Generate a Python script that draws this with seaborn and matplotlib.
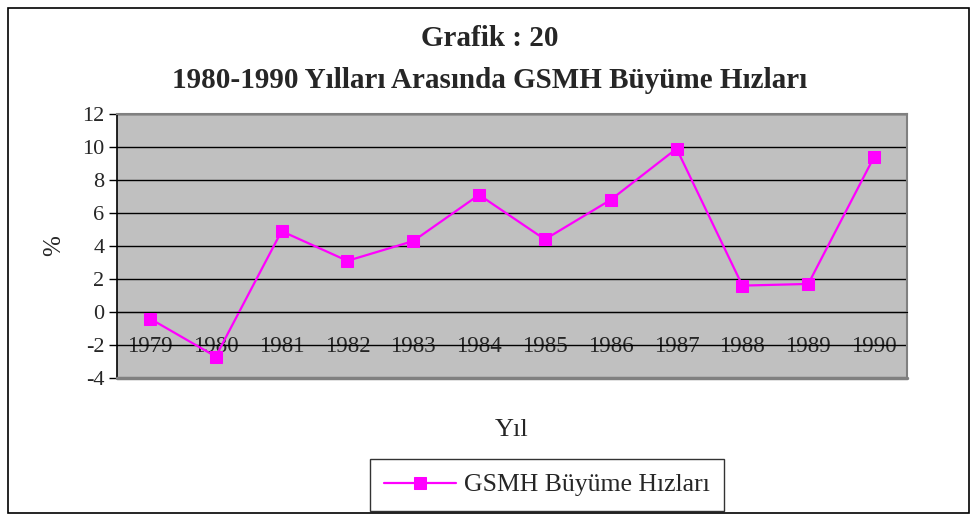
import pandas as pd
import matplotlib
matplotlib.use('Agg')
import matplotlib.pyplot as plt
import matplotlib.patches as patches
from matplotlib.ticker import FixedLocator, MultipleLocator
import seaborn as sns

years = ['1979', '1980', '1981', '1982', '1983', '1984',
         '1985', '1986', '1987', '1988', '1989', '1990']
growth = [-0.4, -2.7, 4.9, 3.1, 4.3, 7.1, 4.4, 6.8, 9.9, 1.6, 1.7, 9.4]
series_name = 'GSMH Büyüme Hızları'

df = pd.DataFrame({'Yil': years, 'Buyume': growth})

sns.set_style('white')
plt.rcParams['font.family'] = ['Liberation Serif', 'DejaVu Serif']
plt.rcParams['axes.unicode_minus'] = False

fig = plt.figure(figsize=(9.79, 5.21), dpi=100)
ax = fig.add_axes([117/979, 1-378/521, 790/979, 264/521])
ax.set_facecolor('#c0c0c0')

sns.lineplot(data=df, x='Yil', y='Buyume', ax=ax, color='#ff00ff',
             marker='s', markersize=8, markeredgecolor='#ff00ff',
             linewidth=1.6, label=series_name, sort=False)

ax.set_xlim(-0.5, 11.5)
ax.set_ylim(-4, 12)
ax.yaxis.set_major_locator(MultipleLocator(2))
ax.grid(axis='y', color='black', linewidth=1)
ax.set_axisbelow(True)

for s in ['top', 'right']:
    ax.spines[s].set_color('#808080')
    ax.spines[s].set_linewidth(1.5)
ax.spines['left'].set_color('black')
ax.spines['left'].set_linewidth(1.2)
ax.spines['bottom'].set_position(('data', 0))
ax.spines['bottom'].set_color('black')
ax.axhline(-4, color='#808080', linewidth=2.5, zorder=3, clip_on=False)

ax.xaxis.set_minor_locator(FixedLocator([i - 0.5 for i in range(13)]))
ax.tick_params(axis='x', which='major', length=0, pad=17, labelsize=16.5)
ax.tick_params(axis='x', which='minor', length=6, direction='out', color='black', width=1)
ax.tick_params(axis='y', which='major', length=6, direction='out', left=True,
               color='black', width=1, labelsize=16, pad=3)

ax.set_xlabel('Yıl', fontsize=19, labelpad=45)
ax.set_ylabel('%', fontsize=18, labelpad=12)

fig.text(0.5, 1-38/521, 'Grafik : 20', ha='center', va='center',
         fontsize=21, fontweight='bold')
fig.text(0.5, 1-80/521, '1980-1990 Yılları Arasında GSMH Büyüme Hızları',
         ha='center', va='center', fontsize=21, fontweight='bold')

leg = ax.legend(loc='center', bbox_to_anchor=(547/979, 1-485/521),
                bbox_transform=fig.transFigure, frameon=True, fancybox=False,
                edgecolor='black', fontsize=18.5, handlelength=2.8,
                borderpad=0.55, handletextpad=0.3, borderaxespad=0)
leg.get_frame().set_linewidth(1)

fig.patches.append(patches.Rectangle((8/979, 8/521), 961/979, 505/521,
                                     transform=fig.transFigure, fill=False,
                                     edgecolor='black', linewidth=1.2))

fig.savefig('out.png', dpi=100)
